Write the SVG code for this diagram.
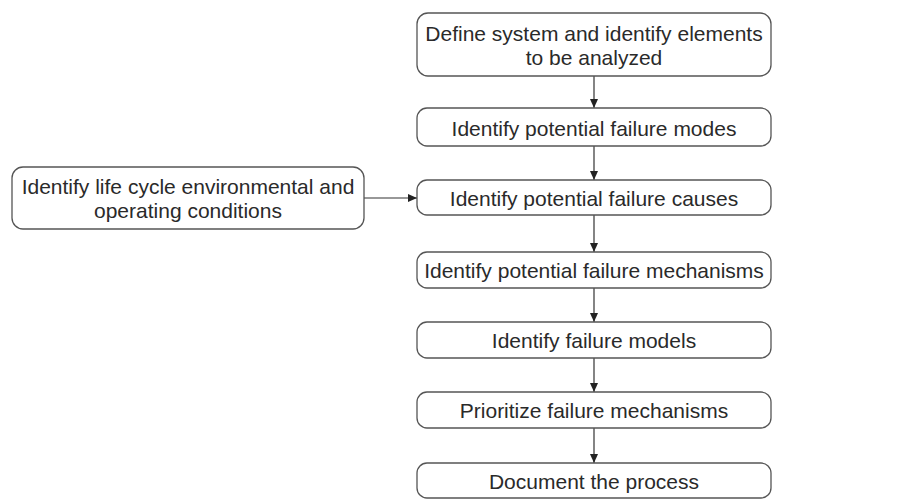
<svg xmlns="http://www.w3.org/2000/svg" width="919" height="501" viewBox="0 0 919 501">
<style>
.box{fill:#fff;stroke:#555;stroke-width:1.3}
.t{font-family:"Liberation Sans",Arial,sans-serif;font-size:21px;fill:#2a2a2a;text-anchor:middle}
.c{stroke:#333;stroke-width:1.2;fill:none}
</style>
<defs>
<marker id="ah" viewBox="0 0 10 10" refX="10" refY="5" markerWidth="9" markerHeight="8" markerUnits="userSpaceOnUse" orient="auto" preserveAspectRatio="none">
<path d="M0,0 L10,5 L0,10 z" fill="#222"/>
</marker>
</defs>
<rect width="919" height="501" fill="#fff"/>
<g id="connectors">
<line class="c" x1="594" y1="76" x2="594" y2="108" marker-end="url(#ah)"/>
<line class="c" x1="594" y1="146" x2="594" y2="180" marker-end="url(#ah)"/>
<line class="c" x1="594" y1="215" x2="594" y2="252" marker-end="url(#ah)"/>
<line class="c" x1="594" y1="288" x2="594" y2="322" marker-end="url(#ah)"/>
<line class="c" x1="594" y1="358" x2="594" y2="392" marker-end="url(#ah)"/>
<line class="c" x1="594" y1="428" x2="594" y2="463" marker-end="url(#ah)"/>
<line class="c" x1="364" y1="198" x2="417" y2="198" marker-end="url(#ah)"/>
</g>
<g id="n1"><rect class="box" x="417" y="13" width="354" height="63" rx="11"/>
<text class="t" x="594" y="41">Define system and identify elements</text>
<text class="t" x="594" y="65">to be analyzed</text></g>
<g id="n2"><rect class="box" x="417" y="108" width="354" height="38" rx="10"/>
<text class="t" x="594" y="136">Identify potential failure modes</text></g>
<g id="n3"><rect class="box" x="417" y="180" width="354" height="35" rx="10"/>
<text class="t" x="594" y="206">Identify potential failure causes</text></g>
<g id="n4"><rect class="box" x="417" y="252" width="354" height="36" rx="10"/>
<text class="t" x="594" y="278">Identify potential failure mechanisms</text></g>
<g id="n5"><rect class="box" x="417" y="322" width="354" height="36" rx="10"/>
<text class="t" x="594" y="348">Identify failure models</text></g>
<g id="n6"><rect class="box" x="417" y="392" width="354" height="36" rx="10"/>
<text class="t" x="594" y="418">Prioritize failure mechanisms</text></g>
<g id="n7"><rect class="box" x="417" y="463" width="354" height="35" rx="10"/>
<text class="t" x="594" y="489">Document the process</text></g>
<g id="n8"><rect class="box" x="12" y="167" width="352" height="62" rx="11"/>
<text class="t" x="188" y="194">Identify life cycle environmental and</text>
<text class="t" x="188" y="218">operating conditions</text></g>
</svg>
